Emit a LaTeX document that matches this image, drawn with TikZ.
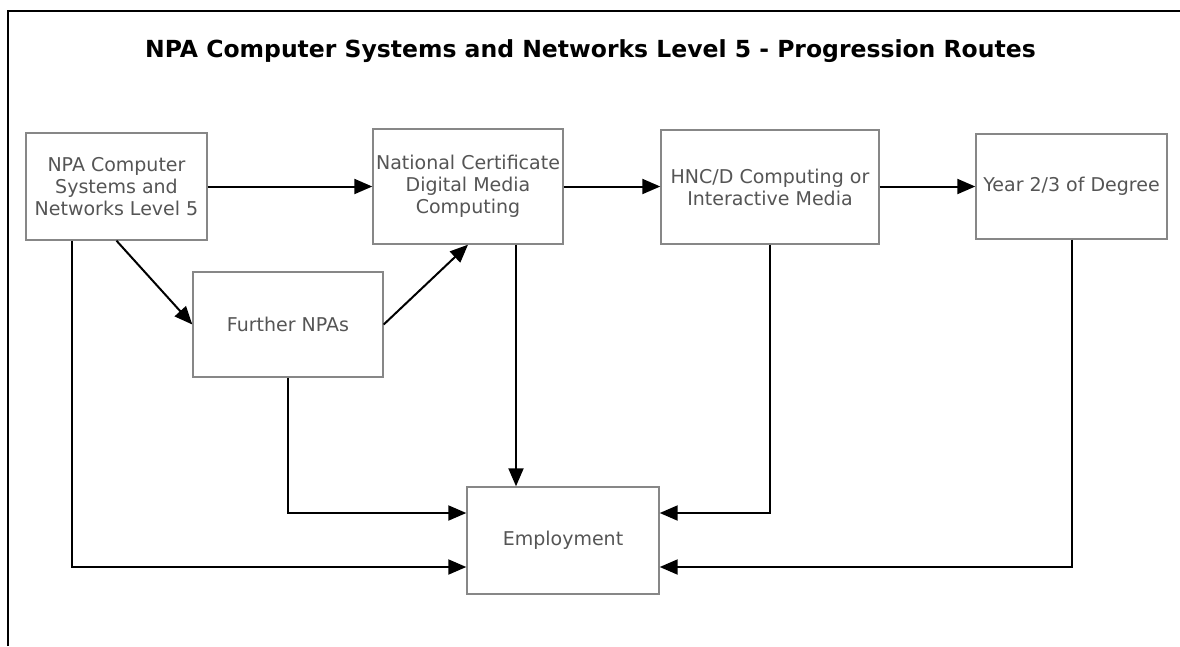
\documentclass[tikz,border=0pt]{standalone}
\usepackage{fontspec}
\setmainfont{DejaVu Sans}
\usetikzlibrary{arrows.meta}
\definecolor{boxline}{RGB}{135,135,135}
\definecolor{boxtext}{RGB}{85,85,85}
\tikzset{
  stagebox/.style={draw=boxline, line width=1.4pt, fill=white, align=center,
    text=boxtext, font=\fontsize{19}{22}\selectfont, inner sep=0pt},
  flow/.style={line width=2pt, -{Triangle[length=18pt,width=15pt]}},
}
\begin{document}
\begin{tikzpicture}[x=1pt,y=-1pt]
\useasboundingbox (0,0) rectangle (1180,646);
% frame
\draw[line width=1.6pt] (8,646) -- (8,11) -- (1180,11);
% title
\node[anchor=base, font=\bfseries\fontsize{23.5}{27}\selectfont] (title) at (590.5,57)
  {NPA Computer Systems and Networks Level 5 - Progression Routes};
% boxes
\node[stagebox, minimum width=181pt, minimum height=107pt] (A) at (116.5,186.5)
  {NPA Computer\\Systems and\\Networks Level 5};
\node[stagebox, minimum width=190pt, minimum height=115pt] (NC) at (468,186.5)
  {National Certificate\\Digital Media\\Computing};
\node[stagebox, minimum width=218pt, minimum height=114pt] (HNC) at (770,187)
  {HNC/D Computing or\\Interactive Media};
\node[stagebox, minimum width=191pt, minimum height=105pt] (Y) at (1071.5,186.5)
  {Year 2/3 of Degree};
\node[stagebox, minimum width=190pt, minimum height=105pt] (F) at (288,324.5)
  {Further NPAs};
\node[stagebox, minimum width=192pt, minimum height=107pt] (E) at (563,540.5)
  {Employment};
% connectors
\coordinate (rowA) at (0,513);
\coordinate (rowB) at (0,567);
\draw[flow] (A.east) -- (A.east -| NC.west);
\draw[flow] (NC.east |- A.east) -- (A.east -| HNC.west);
\draw[flow] (HNC.east |- A.east) -- (A.east -| Y.west);
\draw[flow] (A.south) -- (F.west);
\draw[flow] (F.east) -- (NC.south);
\draw[flow] ([xshift=48pt]NC.south) -- ([xshift=48pt]NC.south |- E.north);
\draw[flow] ([xshift=-44.5pt]A.south) |- (rowB -| E.west);
\draw[flow] (F.south) |- (rowA -| E.west);
\draw[flow] (HNC.south) |- (rowA -| E.east);
\draw[flow] (Y.south) |- (rowB -| E.east);
\end{tikzpicture}
\end{document}
